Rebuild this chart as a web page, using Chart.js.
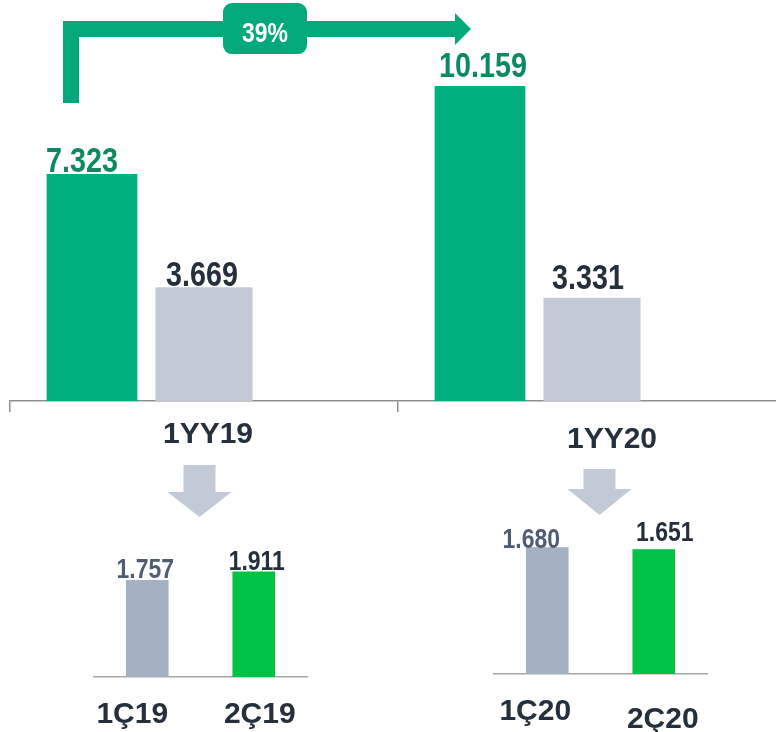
<!DOCTYPE html>
<html lang="tr">
<head>
<meta charset="utf-8">
<script src="https://cdn.jsdelivr.net/npm/chart.js@4.4.1/dist/chart.umd.min.js"></script>
<style>
  html, body { margin: 0; padding: 0; background: #fff; overflow: hidden; }
  body { width: 776px; height: 732px; position: relative; }
  .kutu { position: absolute; }
  #ust { left: 0; top: 0; width: 786px; height: 460px; }
  #altSol { left: 60px; top: 460px; width: 280px; height: 272px; }
  #altSag { left: 470px; top: 460px; width: 306px; height: 272px; }
</style>
</head>
<body>
<div class="kutu" id="ust"><canvas id="cUst"></canvas></div>
<div class="kutu" id="altSol"><canvas id="cAltSol"></canvas></div>
<div class="kutu" id="altSag"><canvas id="cAltSag"></canvas></div>

<script>
// Veriler
const yillar = ["1YY19", "1YY20"];
const yesilDeger = [7323, 10159];
const griDeger = [3669, 3331];
const bosSeri = [null, null]; // orijinaldeki bos ucuncu seri

const ceyrek19 = ["1Ç19", "2Ç19"];
const ceyrek19Deger = [1757, 1911];
const ceyrek20 = ["1Ç20", "2Ç20"];
const ceyrek20Deger = [1680, 1651];

const artis = "39%";

// Renkler
const YESIL = "#00b07f";
const YESIL_YAZI = "#0b8a5e";
const GRI = "#c3cad7";
const KOYU = "#262f3c";
const GRI2 = "#a3b1c2";
const YESIL2 = "#00c244";
const GRI_YAZI = "#4f5d73";
const OK = "#03a97a";
const EKSEN = "#8f8f8f";

Chart.defaults.animation = false;
Chart.defaults.plugins.legend.display = false;
Chart.defaults.plugins.tooltip.enabled = false;

const bin = v => String(v).replace(/\B(?=(\d{3})+(?!\d))/g, ".");

function yaz(ctx, text, x, y, px, color, sx) {
  ctx.save();
  ctx.font = "bold " + px + "px 'Liberation Sans', Arial, sans-serif";
  ctx.fillStyle = color;
  ctx.textAlign = "center";
  ctx.textBaseline = "alphabetic";
  ctx.translate(x, y);
  ctx.scale(sx, 1);
  ctx.fillText(text, 0, 0);
  ctx.restore();
}

function degerYaz(chart, ds, renk, dx, bosluk, px) {
  const meta = chart.getDatasetMeta(ds);
  const data = chart.data.datasets[ds].data;
  meta.data.forEach((bar, i) => {
    yaz(chart.ctx, bin(data[i]), bar.x + dx[i], bar.y - bosluk[i], px, renk[i], 0.82);
  });
}

function kategoriYaz(chart, dx, dy) {
  const sx = chart.scales.x;
  chart.data.labels.forEach((l, i) => {
    yaz(chart.ctx, l, sx.getPixelForValue(i) + dx[i], chart.chartArea.bottom + dy[i], 30, KOYU, 1);
  });
}

function asagiOk(ctx, cx, ust, boyun, uc) {
  ctx.save();
  ctx.fillStyle = GRI;
  ctx.beginPath();
  ctx.moveTo(cx - 16, ust);
  ctx.lineTo(cx + 16, ust);
  ctx.lineTo(cx + 16, boyun);
  ctx.lineTo(cx + 32, boyun);
  ctx.lineTo(cx, uc);
  ctx.lineTo(cx - 32, boyun);
  ctx.lineTo(cx - 16, boyun);
  ctx.closePath();
  ctx.fill();
  ctx.restore();
}

// Ust grafik
const ustEklenti = {
  id: "ustEklenti",
  afterDraw(chart) {
    const ctx = chart.ctx;
    degerYaz(chart, 0, [YESIL_YAZI, YESIL_YAZI], [-10, 3], [2, 9], 35);
    degerYaz(chart, 1, [KOYU, KOYU], [-2, -4], [1, 9], 35);
    kategoriYaz(chart, [4, 20], [42, 47]);

    // artis oku
    const b0 = chart.getDatasetMeta(0).data[0];
    const b1 = chart.getDatasetMeta(0).data[1];
    const x0 = b0.x - 21;
    const alt = b0.y - 71;
    const yUst = b1.y - 65;
    const uc = b1.x - 9;
    ctx.save();
    ctx.fillStyle = OK;
    ctx.beginPath();
    ctx.moveTo(x0 - 8, alt);
    ctx.lineTo(x0 - 8, yUst);
    ctx.lineTo(uc - 16, yUst);
    ctx.lineTo(uc - 16, yUst - 8);
    ctx.lineTo(uc, yUst + 8);
    ctx.lineTo(uc - 16, yUst + 24);
    ctx.lineTo(uc - 16, yUst + 16);
    ctx.lineTo(x0 + 8, yUst + 16);
    ctx.lineTo(x0 + 8, alt);
    ctx.closePath();
    ctx.fill();
    const mx = (x0 + uc) / 2 - 6;
    ctx.beginPath();
    ctx.roundRect(mx - 42, yUst - 18, 84, 51, 9);
    ctx.fill();
    ctx.restore();
    yaz(ctx, artis, mx, yUst + 21, 28, "#ffffff", 0.82);
  }
};

new Chart(document.getElementById("cUst"), {
  type: "bar",
  data: {
    labels: yillar,
    datasets: [
      { data: yesilDeger, backgroundColor: YESIL, barPercentage: 0.81 },
      { data: griDeger, backgroundColor: GRI, barPercentage: 0.866 },
      { data: bosSeri, backgroundColor: "rgba(0,0,0,0)" }
    ]
  },
  options: {
    responsive: true,
    maintainAspectRatio: false,
    datasets: { bar: { categoryPercentage: 0.866 } },
    layout: { padding: { left: 10, right: 0, top: 13.5, bottom: 48 } },
    scales: {
      x: {
        grid: { display: true, drawOnChartArea: false, drawTicks: true, tickLength: 11, offset: true, color: EKSEN, lineWidth: 1.5 },
        border: { display: true, color: EKSEN, width: 1.5 },
        ticks: { display: false }
      },
      y: { display: false, min: 0, max: 12500 }
    }
  },
  plugins: [ustEklenti]
});

// Alt grafikler
function altGrafik(id, etiketler, degerler, ymax, padding, ayar) {
  new Chart(document.getElementById(id), {
    type: "bar",
    data: {
      labels: etiketler,
      datasets: [{ data: degerler, backgroundColor: [GRI2, YESIL2], categoryPercentage: 1, barPercentage: 0.4 }]
    },
    options: {
      responsive: true,
      maintainAspectRatio: false,
      layout: { padding: padding },
      scales: {
        x: {
          grid: { display: false },
          border: { display: true, color: "#a6a6a6", width: 1.5 },
          ticks: { display: false }
        },
        y: { display: false, min: 0, max: ymax }
      }
    },
    plugins: [{
      id: "altEklenti",
      afterDraw(chart) {
        const ca = chart.chartArea;
        asagiOk(chart.ctx, (ca.left + ca.right) / 2 - 1, ayar.ok[0], ayar.ok[1], ayar.ok[2]);
        degerYaz(chart, 0, [GRI_YAZI, KOYU], ayar.dx, ayar.bosluk, 28);
        kategoriYaz(chart, ayar.kdx, ayar.kdy);
      }
    }]
  });
}

altGrafik("cAltSol", ceyrek19, ceyrek19Deger, 3000,
  { left: 34, right: 33, top: 51.5, bottom: 47 },
  { ok: [5, 32, 57], dx: [-2, 3], bosluk: [2, 2], kdx: [-15, 6], kdy: [46, 46] });

altGrafik("cAltSag", ceyrek20, ceyrek20Deger, 2000,
  { left: 24, right: 69, top: 63, bottom: 50 },
  { ok: [9, 29, 55], dx: [-16, 11], bosluk: [-1, 8], kdx: [-12, 9], kdy: [46, 54] });
</script>
</body>
</html>
